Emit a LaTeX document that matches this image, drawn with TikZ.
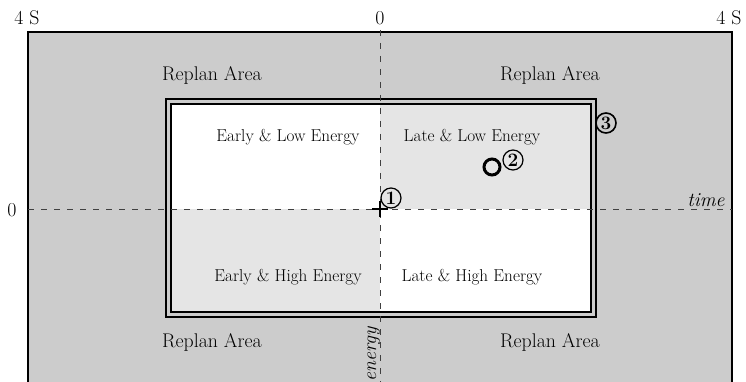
\documentclass[tikz,border=0pt]{standalone}
\begin{document}
\begin{tikzpicture}[x=1pt,y=-1pt,
  big/.style={font=\fontsize{19.8}{22}\selectfont, inner sep=0pt},
  small/.style={font=\fontsize{17.2}{20}\selectfont, inner sep=0pt},
  axis/.style={draw=black!75, line width=0.9pt, dash pattern=on 6pt off 7pt},
  num/.style={circle, draw=black, line width=1.2pt, inner sep=0pt, minimum size=20pt, font=\fontsize{19}{20}\selectfont\bfseries}
]
\definecolor{outergray}{HTML}{CCCCCC}
\definecolor{lightgray2}{HTML}{E5E5E5}
\useasboundingbox (0,0) rectangle (746,382);
% outer area
\fill[outergray] (28,32) rectangle (732,390);
\draw[line width=1.3pt] (28,390) -- (28,32) -- (732,32) -- (732,390);
% quadrants
\fill[white] (171,104) rectangle (591,312);
\fill[lightgray2] (380,104) rectangle (591,209);
\fill[lightgray2] (171,209) rectangle (380,312);
\draw[line width=1.6pt] (166,99) rectangle (596,317);
\draw[line width=1.3pt] (171,104) rectangle (591,312);
% axes
\coordinate (hl) at (28,209);
\coordinate (hr) at (732,209);
\coordinate (vt) at (380,30);
\coordinate (vb) at (380,382);
\draw[axis] (hl) -- (hr);
\draw[axis] (vt) -- (vb);
% labels
\node[big] (s1) at (27,18) {4 S};
\node[big] (s2) at (729,18) {4 S};
\node[big] (z1) at (380,18) {0};
\node[big] (z2) at (12,210) {0};
\node[big] (r1) at (212,75) {Replan Area};
\node[big] (r2) at (550,75) {Replan Area};
\node[big] (r3) at (212,342) {Replan Area};
\node[big] (r4) at (550,342) {Replan Area};
\node[small] (q1) at (288,137) {Early \& Low Energy};
\node[small] (q2) at (472,137) {Late \& Low Energy};
\node[small] (q3) at (288,277) {Early \& High Energy};
\node[small] (q4) at (472,277) {Late \& High Energy};
\node[big, anchor=base] (tm) at (706,206) {\itshape time};
\node[big, rotate=90, anchor=base] (en) at (376,354) {\itshape energy};
% markers
\draw[line width=1.8pt] (372,209) -- (388,209) (380,201) -- (380,217);
\node[circle, draw=black, line width=3pt, minimum size=16pt, inner sep=0pt] (m2) at (492,167) {};
\node[num] (n1) at (391,198) {1};
\node[num] (n2) at (513,160) {2};
\node[num, line width=1.6pt] (n3) at (606,123) {3};
\end{tikzpicture}
\end{document}
